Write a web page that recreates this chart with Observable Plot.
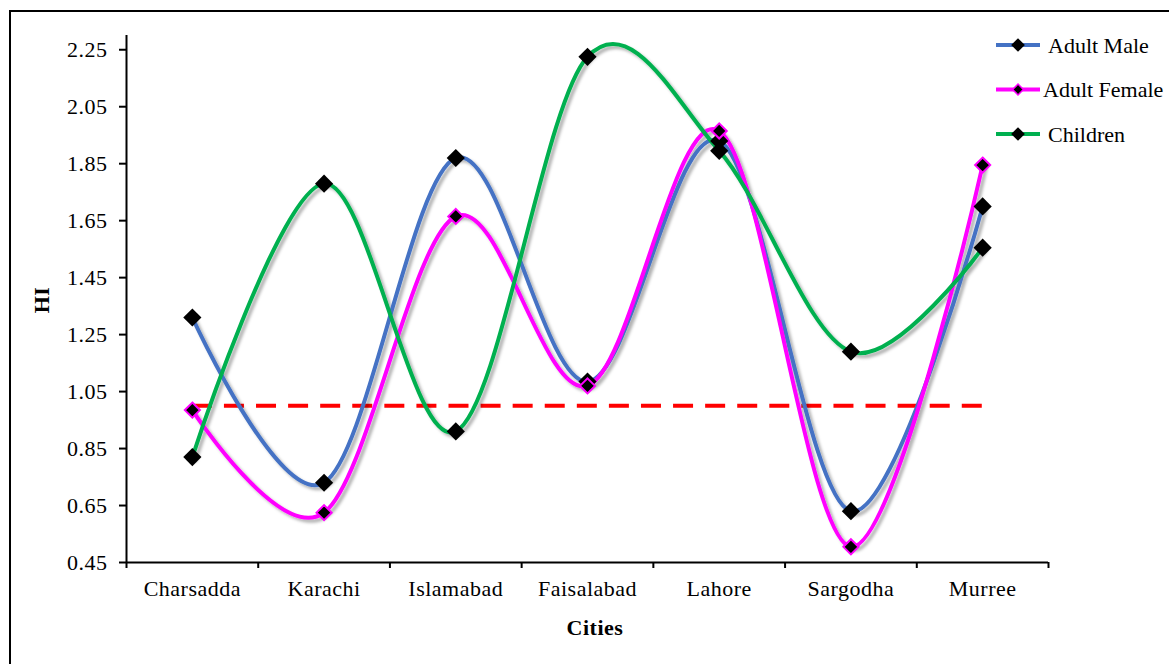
<!DOCTYPE html>
<html><head><meta charset="utf-8">
<script src="https://cdn.jsdelivr.net/npm/d3@7"></script>
<script src="https://cdn.jsdelivr.net/npm/@observablehq/plot@0.6"></script>
<style>body{margin:0;background:#fff} #chart{position:relative;width:1169px;height:664px} svg text{letter-spacing:0.5px} svg text.lg{letter-spacing:0}</style>
</head><body><div id="chart"></div>
<script>
const cities = ["Charsadda","Karachi","Islamabad","Faisalabad","Lahore","Sargodha","Murree"];
const adultMale   = [1.31, 0.73, 1.87, 1.085, 1.93, 0.63, 1.70];
const adultFemale = [0.985, 0.625, 1.665, 1.07, 1.965, 0.505, 1.845];
const children    = [0.82, 1.78, 0.91, 2.225, 1.895, 1.19, 1.555];
const seriesNames = ["Adult Male","Adult Female","Children"];
const seriesColors = ["#4472C4","#FF00FF","#00B050"];
const yTicks = [0.45,0.65,0.85,1.05,1.25,1.45,1.65,1.85,2.05,2.25];
const threshold = 1.0;
const yLabel = "HI";
const xLabel = "Cities";

const rows = [];
[adultMale, adultFemale, children].forEach((vals, s) =>
  vals.forEach((v, i) => rows.push({series: seriesNames[s], i: i + 0.5, city: cities[i], v})));

const curve = d3.curveCatmullRom.alpha(0);
const font = "'Liberation Serif', 'Times New Roman', serif";

const plot = Plot.plot({
  width: 1169, height: 664,
  marginLeft: 126, marginRight: 121, marginTop: 35, marginBottom: 102,
  style: {fontFamily: font, fontSize: "22px", color: "black", background: "white"},
  x: {domain: [0, 7]},
  y: {domain: [0.45, 2.3]},
  color: {domain: seriesNames, range: seriesColors},
  marks: [
    Plot.ruleY([threshold], {x1: 0.5, x2: 6.5, stroke: "#FF0000", strokeWidth: 4, strokeDasharray: "20,12.08"}),
    Plot.line(rows, {x: "i", y: "v", z: "series", stroke: "series", strokeWidth: 4, curve}),
    Plot.dot(rows.filter(d => d.series !== "Adult Female"), {x: "i", y: "v", symbol: "diamond2", r: 8.2, fill: "black"}),
    Plot.dot(rows.filter(d => d.series === "Adult Female"), {x: "i", y: "v", symbol: "diamond2", r: 6.8, fill: "black", stroke: "#FF00FF", strokeWidth: 2}),
    Plot.ruleX([0], {y1: 0.45, y2: 2.3, stroke: "black", strokeWidth: 2}),
    Plot.ruleY([0.45], {x1: 0, x2: 7, stroke: "black", strokeWidth: 2}),
    Plot.axisY({ticks: yTicks, tickFormat: d3.format(".2f"), tickSize: 7, tickPadding: 12, strokeWidth: 2, fontSize: 22, label: null}),
    Plot.axisX({ticks: cities.map((c, i) => i + 0.5), tickFormat: d => cities[Math.floor(d)], tickSize: 0, tickPadding: 18, fontSize: 22, label: null}),
    Plot.axisX({ticks: d3.range(0, 8), tickFormat: () => "", tickSize: 6, strokeWidth: 2, label: null})
  ]
});
document.getElementById("chart").appendChild(plot);

const svg = d3.select(plot);
const defs = svg.insert("defs", ":first-child");
const f = defs.append("filter").attr("id", "sh").attr("x", "-10%").attr("y", "-10%").attr("width", "120%").attr("height", "120%");
f.append("feDropShadow").attr("dx", 3).attr("dy", 3).attr("stdDeviation", 1.5).attr("flood-color", "#000").attr("flood-opacity", 0.3);
svg.selectAll('g[aria-label="line"]').attr("filter", "url(#sh)");

// border
svg.append("path").attr("d", "M10,664 V11 H1169").attr("fill", "none").attr("stroke", "black").attr("stroke-width", 2);

// axis titles
svg.append("text").attr("transform", "translate(49,300) rotate(-90)").attr("text-anchor", "middle")
  .attr("font-weight", "bold").attr("font-size", 22).attr("font-family", font).text(yLabel);
svg.append("text").attr("x", 595).attr("y", 635).attr("text-anchor", "middle")
  .attr("font-weight", "bold").attr("font-size", 22).attr("font-family", font).text(xLabel);

// legend
const lg = svg.append("g");
const textX = [1048, 1043, 1048];
seriesNames.forEach((name, k) => {
  const y = 45 + 44.5 * k;
  lg.append("line").attr("x1", 996).attr("x2", 1040).attr("y1", y).attr("y2", y)
    .attr("stroke", seriesColors[k]).attr("stroke-width", 4);
  lg.append("path").attr("transform", `translate(1018,${y})`)
    .attr("d", d3.symbol(d3.symbolDiamond2, k === 1 ? 75 : 120)())
    .attr("fill", "black").attr("stroke", k === 1 ? "#FF00FF" : "none").attr("stroke-width", 1.5);
  lg.append("text").attr("class", "lg").attr("x", textX[k]).attr("y", y).attr("dy", "0.35em").attr("text-anchor", "start")
    .attr("font-size", 22).attr("font-family", font).text(name);
});
</script>
</body></html>
